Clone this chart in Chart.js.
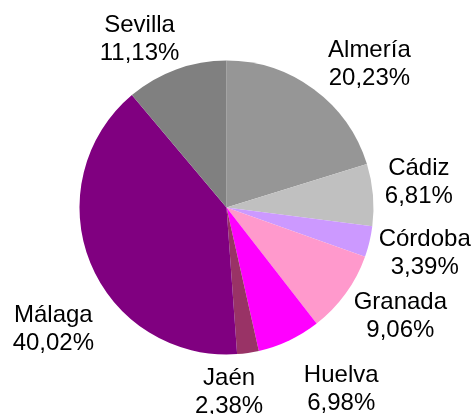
<!DOCTYPE html>
<html>
<head>
<meta charset="utf-8">
<script src="https://cdn.jsdelivr.net/npm/chart.js@4"></script>
<style>
  html, body { margin: 0; padding: 0; background: #fff; }
  #wrap { width: 475px; height: 414px; position: relative; }
</style>
</head>
<body>
<div id="wrap"><canvas id="chart" width="475" height="414"></canvas></div>
<script>
// provincias de Andalucía, share in percent
const provinces = ['Almería', 'Cádiz', 'Córdoba', 'Granada', 'Huelva', 'Jaén', 'Málaga', 'Sevilla'];
const shares = [20.23, 6.81, 3.39, 9.06, 6.98, 2.38, 40.02, 11.13];
const slice_colors = ['#969696', '#c0c0c0', '#cc99ff', '#ff99cc', '#ff00ff', '#993366', '#800080', '#808080'];

// label nudges from the point just outside the rim (dx, dy)
const label_shift = [[39, -10], [18, -18], [28, -2], [32, -1], [40, 16], [-23, 4], [-11, 49], [-27, -11]];

const FONT = '24px "Liberation Sans", Arial, sans-serif';
const LINE_GAP = 28;

function fmt(v) {
  return v.toFixed(2).replace('.', ',') + '%';
}

const pie_labels = {
  id: 'pie_labels',
  afterDatasetsDraw(chart) {
    const ctx = chart.ctx;
    const meta = chart.getDatasetMeta(0);
    ctx.save();
    ctx.font = FONT;
    ctx.fillStyle = '#000';
    ctx.textAlign = 'center';
    ctx.textBaseline = 'alphabetic';
    meta.data.forEach((arc, i) => {
      const mid = (arc.startAngle + arc.endAngle) / 2;
      const r = arc.outerRadius + 28;
      const x = arc.x + Math.cos(mid) * r + label_shift[i][0];
      const y = arc.y + Math.sin(mid) * r + label_shift[i][1];
      ctx.fillText(provinces[i], x, y);
      ctx.fillText(fmt(shares[i]), x, y + LINE_GAP);
    });
    ctx.restore();
  }
};

new Chart(document.getElementById('chart'), {
  type: 'pie',
  data: {
    labels: provinces,
    datasets: [{
      data: shares,
      backgroundColor: slice_colors,
      borderWidth: 0,
      hoverOffset: 0,
      offset: 0
    }]
  },
  options: {
    responsive: false,
    animation: false,
    layout: {
      padding: { left: 79.5, right: 101.5, top: 60.5, bottom: 59.5 }
    },
    plugins: {
      legend: { display: false },
      tooltip: { enabled: false }
    }
  },
  plugins: [pie_labels]
});
</script>
</body>
</html>
